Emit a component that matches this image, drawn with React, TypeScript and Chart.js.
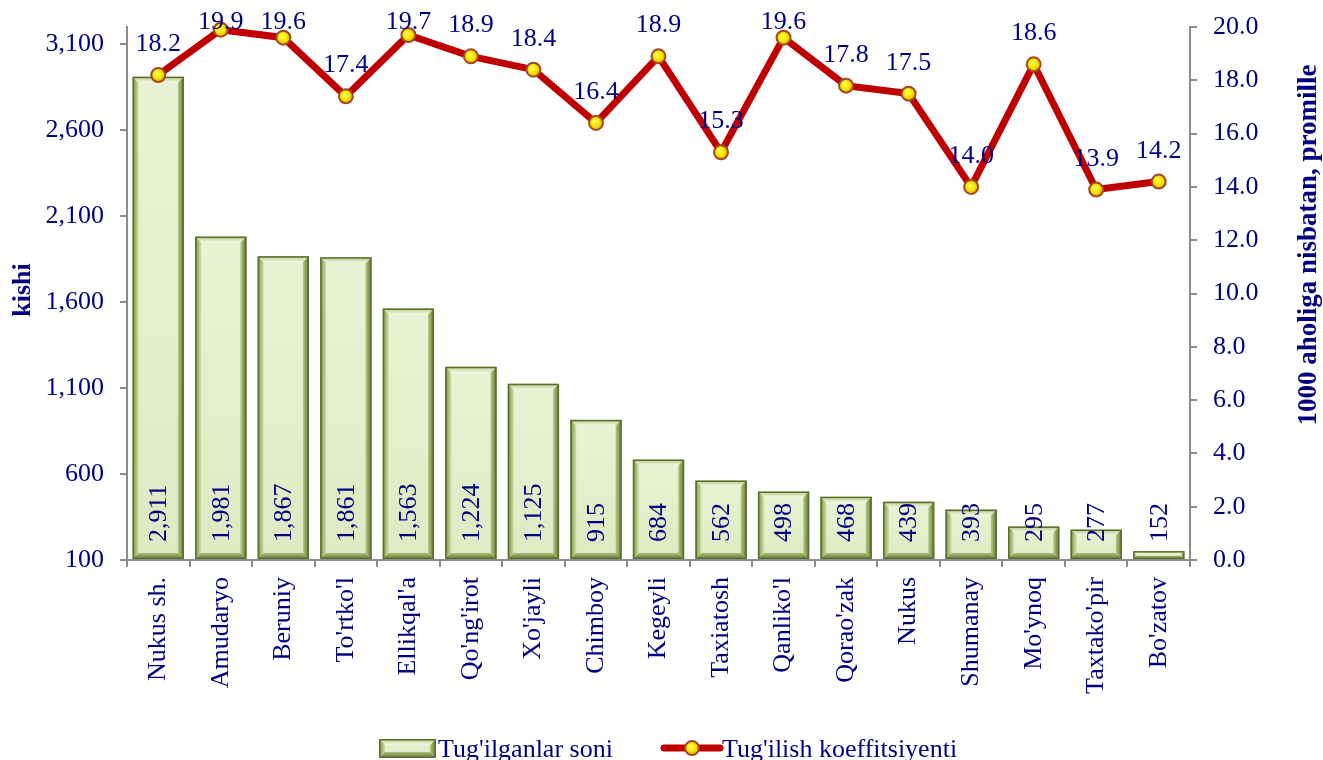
import React, { useEffect, useRef } from 'react';
import { Chart, registerables } from 'chart.js';

Chart.register(...registerables);

const categories = [
  'Nukus sh.', 'Amudaryo', 'Beruniy', "To'rtko'l", "Ellikqal'a", "Qo'ng'irot", "Xo'jayli",
  'Chimboy', 'Kegeyli', 'Taxiatosh', "Qanliko'l", "Qorao'zak", 'Nukus', 'Shumanay',
  "Mo'ynoq", "Taxtako'pir", "Bo'zatov",
];
const births = [2911, 1981, 1867, 1861, 1563, 1224, 1125, 915, 684, 562, 498, 468, 439, 393, 295, 277, 152];
const rates = [18.2, 19.9, 19.6, 17.4, 19.7, 18.9, 18.4, 16.4, 18.9, 15.3, 19.6, 17.8, 17.5, 14.0, 18.6, 13.9, 14.2];
const leftTicks = [100, 600, 1100, 1600, 2100, 2600, 3100];
const rightTicks = [0, 2, 4, 6, 8, 10, 12, 14, 16, 18, 20];
const legendLabels = ["Tug'ilganlar soni", "Tug'ilish koeffitsiyenti"];
const axisTitles = ['kishi', '1000 aholiga nisbatan, promille'];

const FONT = "'Times New Roman', 'Liberation Serif', serif";
const NAVY = '#000080';
const AXIS = '#8c8c8c';
const RED = '#c00000';

function drawBevel(ctx: CanvasRenderingContext2D, x: number, y: number, w: number, h: number) {
  const e = Math.max(1, Math.min(6, h / 2.5, w / 2.5));
  const fg = ctx.createLinearGradient(0, y, 0, y + h);
  fg.addColorStop(0, '#e9f3d3');
  fg.addColorStop(1, '#dfeac3');
  ctx.fillStyle = fg;
  ctx.fillRect(x, y, w, h);
  let g = ctx.createLinearGradient(0, y, 0, y + e);
  g.addColorStop(0, '#b9cc8a');
  g.addColorStop(1, '#f3f8e6');
  ctx.fillStyle = g;
  ctx.beginPath();
  ctx.moveTo(x, y); ctx.lineTo(x + w, y); ctx.lineTo(x + w - e, y + e); ctx.lineTo(x + e, y + e); ctx.closePath();
  ctx.fill();
  g = ctx.createLinearGradient(x, 0, x + e, 0);
  g.addColorStop(0, '#7d9142');
  g.addColorStop(1, '#cfe0a8');
  ctx.fillStyle = g;
  ctx.beginPath();
  ctx.moveTo(x, y); ctx.lineTo(x + e, y + e); ctx.lineTo(x + e, y + h - e); ctx.lineTo(x, y + h); ctx.closePath();
  ctx.fill();
  g = ctx.createLinearGradient(x + w - e, 0, x + w, 0);
  g.addColorStop(0, '#b8cc88');
  g.addColorStop(1, '#5f7330');
  ctx.fillStyle = g;
  ctx.beginPath();
  ctx.moveTo(x + w, y); ctx.lineTo(x + w, y + h); ctx.lineTo(x + w - e, y + h - e); ctx.lineTo(x + w - e, y + e); ctx.closePath();
  ctx.fill();
  g = ctx.createLinearGradient(0, y + h - e, 0, y + h);
  g.addColorStop(0, '#a9bd78');
  g.addColorStop(1, '#66793a');
  ctx.fillStyle = g;
  ctx.beginPath();
  ctx.moveTo(x, y + h); ctx.lineTo(x + e, y + h - e); ctx.lineTo(x + w - e, y + h - e); ctx.lineTo(x + w, y + h); ctx.closePath();
  ctx.fill();
  ctx.strokeStyle = '#5c6f2e';
  ctx.lineWidth = 1.5;
  ctx.strokeRect(x + 0.75, y + 0.75, w - 1.5, h - 1.5);
}

function drawMarker(ctx: CanvasRenderingContext2D, x: number, y: number, r: number) {
  const g = ctx.createRadialGradient(x - r * 0.3, y - r * 0.3, 0, x, y, r);
  g.addColorStop(0, '#ffff60');
  g.addColorStop(0.6, '#f5e800');
  g.addColorStop(1, '#d8b000');
  ctx.beginPath();
  ctx.arc(x, y, r, 0, Math.PI * 2);
  ctx.fillStyle = g;
  ctx.fill();
  ctx.lineWidth = 2;
  ctx.strokeStyle = '#a4482a';
  ctx.stroke();
}

const decorPlugin = {
  id: 'decor',
  afterDatasetDraw(chart: any, args: any) {
    if (args.index !== 0) return;
    const ctx = chart.ctx as CanvasRenderingContext2D;
    const meta = chart.getDatasetMeta(0);
    ctx.save();
    meta.data.forEach((el: any) => {
      const p = el.getProps(['x', 'y', 'base', 'width'], true);
      const left = p.x - p.width / 2;
      const top = Math.min(p.y, p.base);
      const h = Math.abs(p.base - p.y);
      drawBevel(ctx, left, top, p.width, h);
    });
    ctx.restore();
  },
  afterDatasetsDraw(chart: any) {
    const ctx = chart.ctx as CanvasRenderingContext2D;
    ctx.save();
    const lmeta = chart.getDatasetMeta(1);
    lmeta.data.forEach((pt: any) => {
      drawMarker(ctx, pt.x, pt.y, 7);
    });
    const bmeta = chart.getDatasetMeta(0);
    ctx.font = `26px ${FONT}`;
    ctx.fillStyle = NAVY;
    bmeta.data.forEach((el: any, i: number) => {
      const p = el.getProps(['x', 'base'], true);
      ctx.save();
      ctx.translate(p.x, p.base - 17);
      ctx.rotate(-Math.PI / 2);
      ctx.textAlign = 'left';
      ctx.textBaseline = 'middle';
      ctx.fillText(births[i].toLocaleString('en-US'), 0, 1);
      ctx.restore();
    });
    ctx.textAlign = 'center';
    ctx.textBaseline = 'alphabetic';
    lmeta.data.forEach((pt: any, i: number) => {
      const by = Math.max(pt.y - 24, 29);
      ctx.fillText(rates[i].toFixed(1), pt.x, by);
    });
    ctx.restore();
  },
  afterDraw(chart: any) {
    const ctx = chart.ctx as CanvasRenderingContext2D;
    ctx.save();
    ctx.fillStyle = NAVY;
    ctx.font = `bold 26px ${FONT}`;
    ctx.textAlign = 'center';
    ctx.textBaseline = 'middle';
    ctx.save();
    ctx.translate(23, 290);
    ctx.rotate(-Math.PI / 2);
    ctx.fillText(axisTitles[0], 0, 0);
    ctx.restore();
    ctx.save();
    ctx.font = `bold 27px ${FONT}`;
    ctx.translate(1309, 245);
    ctx.rotate(-Math.PI / 2);
    ctx.fillText(axisTitles[1], 0, 0);
    ctx.restore();

    drawBevel(ctx, 379, 739, 57, 19);
    ctx.font = `26px ${FONT}`;
    ctx.textAlign = 'left';
    ctx.textBaseline = 'alphabetic';
    ctx.fillStyle = NAVY;
    ctx.fillText(legendLabels[0], 438, 757);
    ctx.beginPath();
    ctx.moveTo(664, 748);
    ctx.lineTo(720, 748);
    ctx.strokeStyle = RED;
    ctx.lineWidth = 7;
    ctx.lineCap = 'round';
    ctx.stroke();
    drawMarker(ctx, 692, 748, 7);
    ctx.fillStyle = NAVY;
    ctx.fillText(legendLabels[1], 722, 757);
    ctx.restore();
  },
};

const fitY = (w: number) => (s: any) => {
  s.width = w;
  s.paddingTop = 0;
  s.paddingBottom = 0;
};

export default function App() {
  const ref = useRef<HTMLCanvasElement | null>(null);
  useEffect(() => {
    if (!ref.current) return;
    const chart = new Chart(ref.current, {
      type: 'bar',
      data: {
        labels: categories,
        datasets: [
          {
            type: 'bar',
            label: legendLabels[0],
            data: births,
            yAxisID: 'y',
            base: 100,
            backgroundColor: '#e3eec9',
            borderColor: '#5c6f2e',
            borderWidth: 0,
            barPercentage: 0.82,
            categoryPercentage: 1,
            order: 2,
          },
          {
            type: 'line',
            label: legendLabels[1],
            data: rates,
            yAxisID: 'y1',
            borderColor: RED,
            borderWidth: 7,
            pointRadius: 0,
            tension: 0,
            clip: false,
            order: 1,
          },
        ],
      } as any,
      options: {
        responsive: false,
        animation: false,
        layout: { padding: { top: 27, bottom: 50, left: 0, right: 0 } },
        plugins: {
          legend: { display: false },
          tooltip: { enabled: false },
        },
        scales: {
          x: {
            offset: true,
            grid: {
              offset: true,
              drawOnChartArea: false,
              drawTicks: true,
              tickLength: 7,
              color: AXIS,
              lineWidth: 2,
            },
            border: { display: true, color: AXIS, width: 2 },
            ticks: {
              autoSkip: false,
              minRotation: 90,
              maxRotation: 90,
              padding: 10,
              color: NAVY,
              font: { family: FONT, size: 26 },
            },
            afterFit: (s: any) => { s.height = 150; s.paddingLeft = 0; s.paddingRight = 0; },
          },
          y: {
            position: 'left',
            min: 100,
            max: 3200,
            afterBuildTicks: (s: any) => { s.ticks = leftTicks.map((v) => ({ value: v })); },
            grid: {
              drawOnChartArea: false,
              drawTicks: true,
              tickLength: 7,
              color: AXIS,
              lineWidth: 2,
            },
            border: { display: true, color: AXIS, width: 2 },
            ticks: {
              padding: 16,
              color: NAVY,
              font: { family: FONT, size: 26 },
              callback: (v: any) => Number(v).toLocaleString('en-US'),
            },
            afterFit: fitY(127),
          },
          y1: {
            position: 'right',
            min: 0,
            max: 20,
            afterBuildTicks: (s: any) => { s.ticks = rightTicks.map((v) => ({ value: v })); },
            grid: {
              drawOnChartArea: false,
              drawTicks: true,
              tickLength: 7,
              color: AXIS,
              lineWidth: 2,
            },
            border: { display: true, color: AXIS, width: 2 },
            ticks: {
              padding: 16,
              color: NAVY,
              font: { family: FONT, size: 26 },
              callback: (v: any) => Number(v).toFixed(1),
            },
            afterFit: fitY(133),
          },
        },
      } as any,
      plugins: [decorPlugin],
    });
    return () => chart.destroy();
  }, []);
  return (
    <div style={{ position: 'absolute', left: 0, top: 0, width: 1323, height: 760, background: '#fff' }}>
      <canvas ref={ref} width={1323} height={760} style={{ width: 1323, height: 760 }} />
    </div>
  );
}
